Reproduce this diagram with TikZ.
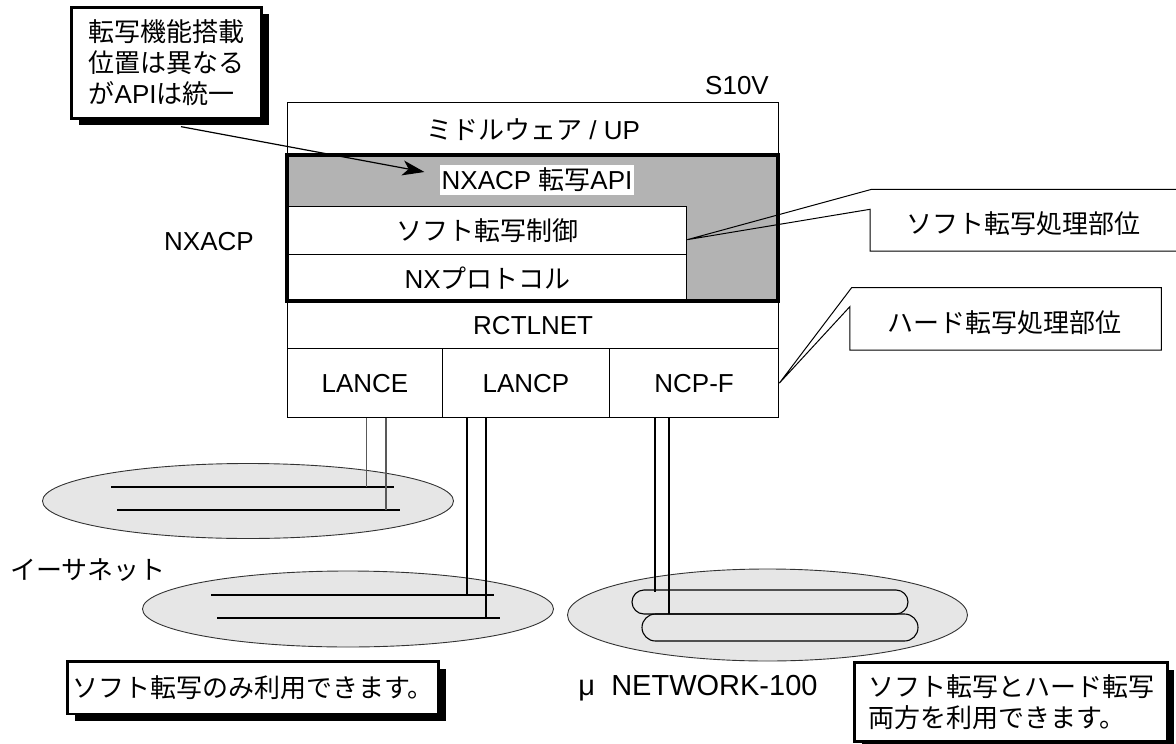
\documentclass[tikz,border=0pt]{standalone}
\usepackage{fontspec}
\setmainfont{Liberation Sans}
\newfontfamily\jpfont{Noto Sans CJK JP}
\newcommand\JP[1]{{\jpfont #1}}
\usetikzlibrary{arrows.meta,shapes.geometric,shadows,calc}
\definecolor{nxgray}{RGB}{179,179,179}
\definecolor{netgray}{RGB}{230,230,230}
\begin{document}
\begin{tikzpicture}[x=1pt,y=-1pt,
  every node/.style={font=\fontsize{26}{31}\selectfont},
  layer/.style={draw, line width=1.3pt, anchor=north west, inner sep=0pt, fill=white},
  callout/.style={draw, line width=2.7pt, fill=white, inner sep=0pt,
    drop shadow={shadow xshift=7pt, shadow yshift=-7pt, fill=black, opacity=1}},
  netshape/.style={ellipse, draw=black!80, line width=0.9pt, fill=netgray, inner sep=0pt},
  busline/.style={line width=2pt},
  wirethin/.style={line width=1.2pt, black!65},
  wirethick/.style={line width=2pt},
  pointer/.style={line width=1pt, line join=miter},
]
\useasboundingbox (0,0) rectangle (1176,744);

% ---- main stack
\node[layer, minimum width=491, minimum height=53] (mw) at (287,102) {\JP{ミドルウェア} / UP};
\node[anchor=north west, fill=nxgray, minimum width=491, minimum height=146, inner sep=0pt] (nxacp) at (287,155) {};
\node[fill=white, inner xsep=2pt, inner ysep=3pt] (api) at (537,180) {NXACP \JP{転写}API};
\node[layer, minimum width=398, minimum height=48] (soft) at (288,206) {\JP{ソフト転写制御}};
\node[layer, minimum width=398, minimum height=47] (proto) at (288,254) {NX\JP{プロトコル}};
\node[layer, minimum width=491, minimum height=47] (rctl) at (287,301) {RCTLNET};
\node[layer, minimum width=154.7, minimum height=69] (lance) at (287,348) {LANCE};
\node[layer, minimum width=167.3, minimum height=69] (lancp) at (441.7,348) {LANCP};
\node[layer, minimum width=169, minimum height=69] (ncpf) at (609,348) {NCP-F};
\draw[line width=4pt] (nxacp.north west) rectangle (nxacp.south east);

\node (s10v) at (737,86) {S10V};
\node (nxlbl) at (209,242) {NXACP};

% ---- networks
\node[netshape, minimum width=411, minimum height=75] (eth1) at (248,501) {};
\node[netshape, minimum width=411, minimum height=76] (eth2) at (348,609) {};
\node[netshape, minimum width=400, minimum height=92] (mun) at (767.5,615) {};

\draw[busline] (111,486.7) -- (394,486.7);
\draw[busline] (117,509.7) -- (400,509.7);
\draw[busline] (211,594.7) -- (494,594.7);
\draw[busline] (217,617.7) -- (500,617.7);
\draw[line width=1.1pt, rounded corners=12pt] (632,590) rectangle (908,614);
\draw[line width=1.1pt, rounded corners=13.5pt] (642,614) rectangle (918,641);

\coordinate (w1) at (366.7,486.7);
\coordinate (w2) at (386,509.7);
\coordinate (w3) at (466.7,594.7);
\coordinate (w4) at (486,617.7);
\coordinate (w5) at (655,592);
\coordinate (w6) at (669,614);
\draw[wirethin] (lance.south -| w1) -- (w1);
\draw[wirethin] (lance.south -| w2) -- (w2);
\draw[wirethick] (lancp.south -| w3) -- (w3);
\draw[wirethick] (lancp.south -| w4) -- (w4);
\draw[wirethick] (ncpf.south -| w5) -- (w5);
\draw[wirethick] (ncpf.south -| w6) -- (w6);

\node (ethlbl) at (88,570) {\JP{イーサネット}};
\node[font=\fontsize{29}{34}\selectfont] (mulbl) at (698,688) {μ\ \ NETWORK-100};

% ---- callouts
\node[callout, minimum width=190, minimum height=111, align=left] (tl) at (166.7,62.8)
  {\JP{転写機能搭載}\\\JP{位置は異なる}\\\JP{が}API\JP{は統一}};
\draw[line width=1.2pt, -{Stealth[length=22pt,width=15pt,inset=6pt]}]
  ([xshift=14.3pt,yshift=-7pt]tl.south) -- ([xshift=-15pt,yshift=8pt]api.west);

\node[callout, minimum width=371, minimum height=52.3] (only) at (253.2,687.9)
  {\JP{ソフト転写のみ利用できます。}};
\node[callout, minimum width=312.6, minimum height=79, align=left] (both) at (1011,702.2)
  {\JP{ソフト転写とハード転写}\\\JP{両方を利用できます。}};

\draw[pointer] (1176,189.3) -- (871.7,189.3) -- ([yshift=-9pt]soft.east) -- (870,209.3) -- (870,251) -- (1176,251);
\node (softlbl) at (1023,224) {\JP{ソフト転写処理部位}};

\draw[pointer] (ncpf.east) -- (851.6,287.7) -- (1161.4,287.7) -- (1161.4,350) -- (849.8,350) -- (849.8,306.7) -- cycle;
\node (hardlbl) at (1004,323) {\JP{ハード転写処理部位}};
\end{tikzpicture}
\end{document}
